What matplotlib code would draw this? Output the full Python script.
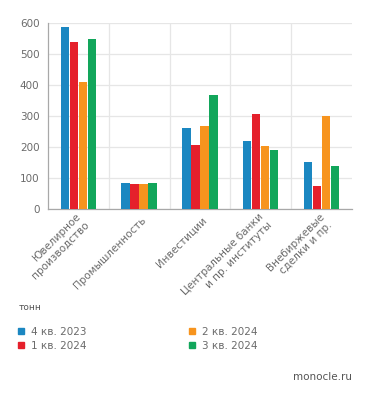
import matplotlib
matplotlib.use('Agg')
import matplotlib.pyplot as plt
import matplotlib.transforms as mtransforms
from matplotlib.lines import Line2D
import numpy as np

categories = ['Ювелирное\nпроизводство', 'Промышленность', 'Инвестиции',
              'Центральные банки\nи пр. институты', 'Внебиржевые\nсделки и пр.']
series_names = ['4 кв. 2023', '1 кв. 2024', '2 кв. 2024', '3 кв. 2024']
q4_2023 = [584, 82, 261, 217, 149]
q1_2024 = [538, 80, 205, 306, 72]
q2_2024 = [409, 80, 267, 203, 297]
q3_2024 = [546, 83, 365, 188, 137]
y_ticks = [0, 100, 200, 300, 400, 500, 600]

colors = ['#1b87c1', '#e5202b', '#f7941e', '#12a65b']
grey = '#6b6b6b'

plt.rcParams['font.family'] = ['DejaVu Sans']

fig = plt.figure(figsize=(3.71, 3.99), dpi=100, facecolor='white')
ax = fig.add_axes([0.129, 0.4774, 0.82, 0.4662])

x = np.arange(len(categories))
step = 0.148
width = 0.136
all_series = [q4_2023, q1_2024, q2_2024, q3_2024]
for i, vals in enumerate(all_series):
    ax.bar(x + (i - 1.5) * step, vals, width, color=colors[i], zorder=3)

ax.set_xlim(-0.5, len(categories) - 0.5)
ax.set_ylim(0, 600)
ax.set_yticks(y_ticks)
ax.set_xticks(x)
ax.set_xticklabels(categories, rotation=45, ha='right', va='center',
                   rotation_mode='anchor', fontsize=7.5, color=grey)
ax.set_xticks(np.arange(0.5, len(categories) - 0.5, 1), minor=True)

ax.tick_params(axis='x', which='both', length=0, pad=7.5)
ax.tick_params(axis='y', length=0, pad=6, labelsize=7.5, labelcolor=grey)

offset = mtransforms.ScaledTranslation(5 / 100, 0, fig.dpi_scale_trans)
for lbl in ax.get_xticklabels():
    lbl.set_transform(lbl.get_transform() + offset)
    lbl.set_multialignment('right')

ax.grid(axis='y', color='#e6e6e6', linewidth=0.9, zorder=0)
ax.grid(axis='x', which='minor', color='#e6e6e6', linewidth=0.9, zorder=0)
for s in ['top', 'right']:
    ax.spines[s].set_visible(False)
for s in ['left', 'bottom']:
    ax.spines[s].set_color('#a8a8a8')
    ax.spines[s].set_linewidth(0.9)

fig.text(19 / 371, 1 - 308 / 399, 'тонн', fontsize=6.5, color='#555555',
         ha='left', va='center')
fig.text(352 / 371, 1 - 377 / 399, 'monocle.ru', fontsize=7.5, color='#555555',
         ha='right', va='center')

handles = [Line2D([], [], linestyle='none', marker='s', markersize=4.5,
                  markerfacecolor=c, markeredgecolor=c) for c in colors]
leg_kw = dict(frameon=False, fontsize=7.5, labelcolor=grey, handlelength=0.7,
              handletextpad=0.6, labelspacing=0.35, borderpad=0, borderaxespad=0,
              loc='upper left')
fig.legend(handles[:2], series_names[:2],
           bbox_to_anchor=(17 / 371, 1 - 327 / 399), **leg_kw)
fig.legend(handles[2:], series_names[2:],
           bbox_to_anchor=(188.5 / 371, 1 - 327 / 399), **leg_kw)

fig.savefig('out.png', dpi=100, facecolor='white')
